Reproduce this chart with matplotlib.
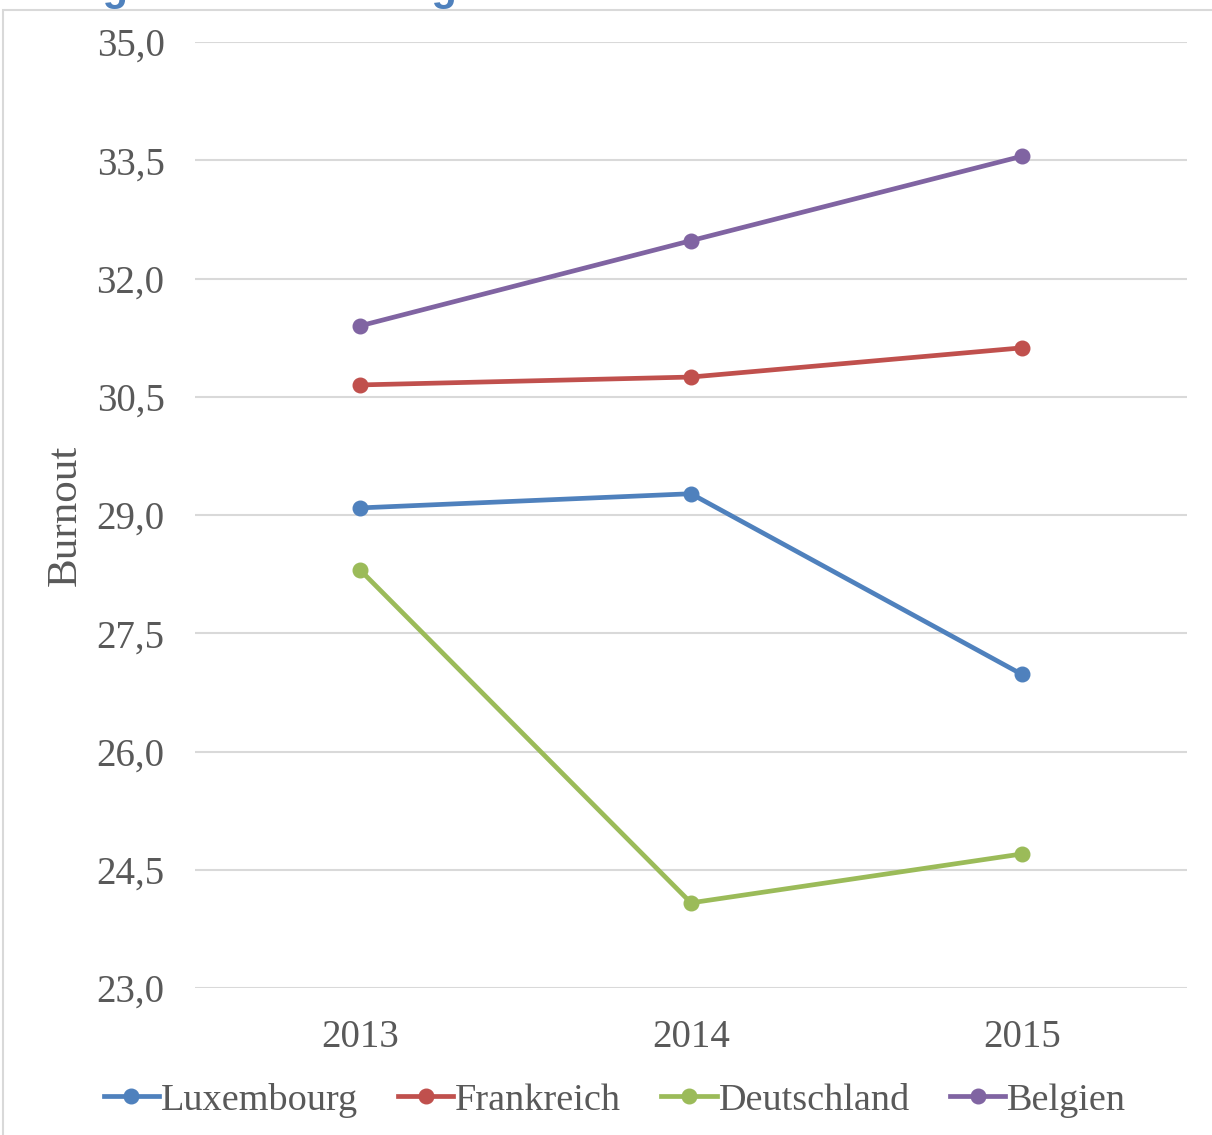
import matplotlib.pyplot as plt
from matplotlib.patches import Rectangle
from matplotlib.lines import Line2D

# Burnout scores per country of residence
years = ['2013', '2014', '2015']
luxembourg = [29.09, 29.27, 26.98]
frankreich = [30.65, 30.75, 31.12]
deutschland = [28.30, 24.08, 24.70]
belgien = [31.40, 32.48, 33.55]
y_ticks = [23.0, 24.5, 26.0, 27.5, 29.0, 30.5, 32.0, 33.5, 35.0]

series = [
    ('Luxembourg', luxembourg, '#4F81BD'),
    ('Frankreich', frankreich, '#C0504D'),
    ('Deutschland', deutschland, '#9BBB59'),
    ('Belgien', belgien, '#8064A2'),
]

text_grey = '#595959'
plt.rcParams['font.family'] = ['Liberation Serif', 'DejaVu Serif']

fig = plt.figure(figsize=(12.12, 11.35), dpi=100)
W, H = 1212, 1135

# outer chart frame (only top and left edge are inside the image)
fig.patches.append(Rectangle((3 / W, -0.1), 1.2, 1 - 10 / H + 0.1,
                             transform=fig.transFigure, fill=False,
                             edgecolor='#D9D9D9', linewidth=1.5))

# caption above the chart, mostly cut off by the image edge
fig.text(-78 / W, 1.0, 'Abbildung 33: Entwicklung von Burnout nach Wohnland',
         family='Liberation Sans', fontweight='bold', fontsize=30,
         color='#4F81BD', ha='left', va='baseline')

ax = fig.add_axes([195 / W, 1 - 988 / H, (1187 - 195) / W, (988 - 42) / H])

x = range(len(years))
for name, vals, col in series:
    ax.plot(x, vals, color=col, linewidth=3.4, marker='o', markersize=10.5,
            solid_capstyle='round', label=name)

ax.set_xlim(-0.5, 2.5)
ax.set_ylim(23.0, 35.0)
ax.set_yticks(y_ticks)
ax.set_yticklabels([f'{v:.1f}'.replace('.', ',') for v in y_ticks])
ax.set_xticks(list(x))
ax.set_xticklabels(years)
ax.grid(axis='y', color='#D9D9D9', linewidth=1.5)
ax.set_axisbelow(True)
for s in ax.spines.values():
    s.set_visible(False)
ax.tick_params(axis='both', length=0, labelsize=28, labelcolor=text_grey)
ax.tick_params(axis='y', pad=22)
ax.tick_params(axis='x', pad=22)
ax.set_ylabel('Burnout', fontsize=31, color=text_grey, labelpad=8)

handles = [Line2D([0], [0], color=c, linewidth=3.4, marker='o', markersize=10.5)
           for _, _, c in series]
fig.legend(handles, [n for n, _, _ in series], loc='center',
           bbox_to_anchor=(615 / W, 1 - 1100 / H), ncol=4, frameon=False,
           fontsize=27.5, labelcolor=text_grey, handlelength=1.45,
           handletextpad=0.05, columnspacing=1.05)

fig.savefig('out.png', dpi=100)
